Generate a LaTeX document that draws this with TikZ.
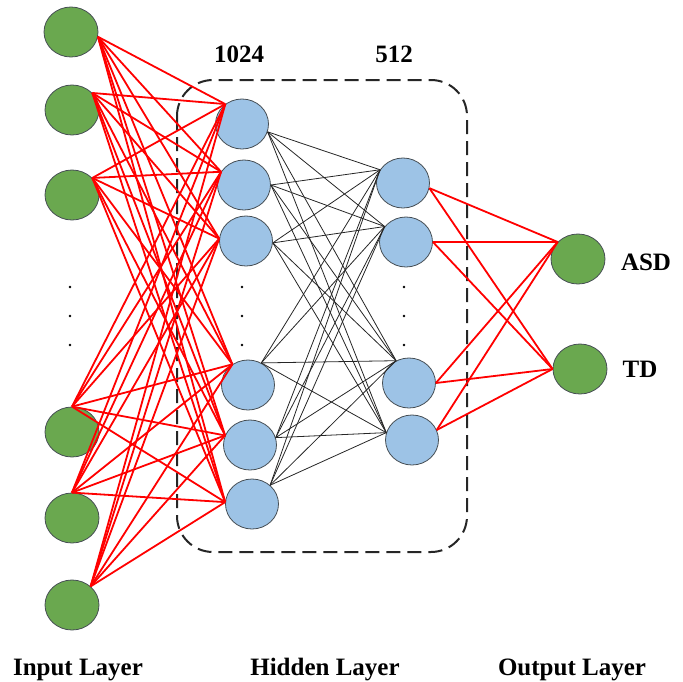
\documentclass[tikz,border=0pt]{standalone}
\usepackage{fontspec}
\setmainfont{Liberation Serif}
\usetikzlibrary{shapes.geometric}
\definecolor{nodegreen}{RGB}{106,168,79}
\definecolor{nodeblue}{RGB}{157,195,230}
\definecolor{rimgray}{RGB}{70,78,84}
\tikzset{
	greennode/.style={ellipse, draw=rimgray, line width=0.8pt, fill=nodegreen, minimum width=54pt, minimum height=50pt, inner sep=0pt},
	bluenode/.style={ellipse, draw=rimgray, line width=0.8pt, fill=nodeblue, minimum width=53pt, minimum height=50pt, inner sep=0pt},
	redline/.style={red, line width=1.8pt},
	blackline/.style={black!85, line width=0.8pt},
	lbl/.style={anchor=base, inner sep=0pt, font=\fontsize{25}{30}\selectfont\bfseries},
	dotmark/.style={fill=black, radius=1.3pt}
}

\begin{document}
\begin{tikzpicture}[x=1pt, y=-1pt]
		%%%%% START %%%%%
		\useasboundingbox (0, 0) rectangle (683, 681);
		
		\draw[black!85, line width=2pt, dash pattern=on 14pt off 7pt, rounded corners=36pt] (177, 80) rectangle (467, 552);
		
		% input layer
		\node[greennode] (i1) at (71, 32) {};
		\node[greennode] (i2) at (72, 110) {};
		\node[greennode] (i3) at (72, 195) {};
		\node[greennode] (i4) at (72, 432) {};
		\node[greennode] (i5) at (72, 518) {};
		\node[greennode] (i6) at (72, 605) {};
		
		% hidden layers
		\node[bluenode] (h1) at (242, 124) {};
		\node[bluenode] (h2) at (244, 185) {};
		\node[bluenode] (h3) at (246, 241) {};
		\node[bluenode] (h4) at (248, 385) {};
		\node[bluenode] (h5) at (250, 445) {};
		\node[bluenode] (h6) at (252, 504) {};
		
		\node[bluenode] (j1) at (403, 183) {};
		\node[bluenode] (j2) at (406, 242) {};
		\node[bluenode] (j3) at (409, 383) {};
		\node[bluenode] (j4) at (412, 440) {};
		
		% output layer
		\node[greennode] (o1) at (578, 259) {};
		\node[greennode] (o2) at (580, 369) {};
		
		\foreach \y in {287, 316, 345} {
			\fill (70, \y) circle[radius=1.3pt];
			\fill (242, \y) circle[radius=1.3pt];
			\fill (404, \y) circle[radius=1.3pt];
		}
		
		\foreach \i/\a in {1/-10, 2/40, 3/40, 4/90, 5/90, 6/45}
			\foreach \h/\b in {1/130, 2/150, 3/175, 4/127, 5/159, 6/176}
				\draw[redline] (i\i.\a) -- (h\h.\b);
		
		\foreach \h/\a in {1/-17, 2/0, 3/-4, 4/59, 5/16, 6/46}
			\foreach \j/\b in {1/150, 2/144, 3/120, 4/164}
				\draw[blackline] (h\h.\a) -- (j\j.\b);
		
		\foreach \j/\a in {1/-11, 2/0, 3/0, 4/22}
			\foreach \o/\b in {1/140, 2/180}
				\draw[redline] (j\j.\a) -- (o\o.\b);
		
		% labels
		\node[lbl] (n1024) at (239, 62) {1024};
		\node[lbl] (n512) at (394, 62) {512};
		\node[lbl] (asd) at (646, 270) {ASD};
		\node[lbl] (td) at (640, 377) {TD};
		\node[lbl] (inlbl) at (78, 675) {Input Layer};
		\node[lbl] (hidlbl) at (325, 675) {Hidden Layer};
		\node[lbl] (outlbl) at (572, 675) {Output Layer};
		%%%%% END %%%%%
	\end{tikzpicture}
\end{document}
